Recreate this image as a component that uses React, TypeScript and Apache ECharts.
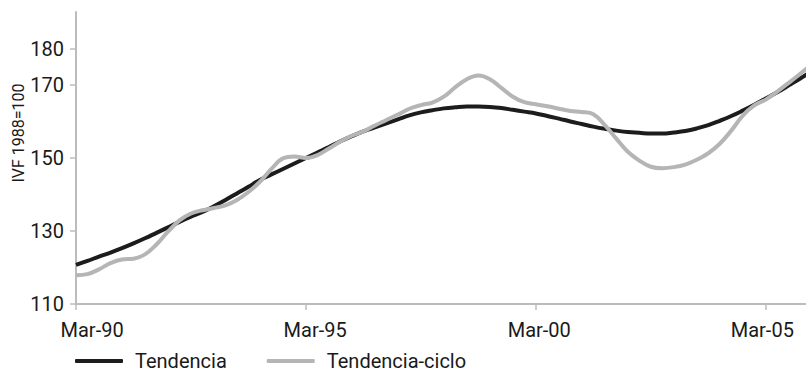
import React, { useEffect, useRef } from "react";
import * as echarts from "echarts";

// Quarterly index: 0 = Mar-90, 1 = Jun-90, ... (IVF, 1988 = 100)
const tendencia = [
  120.7, 121.8, 123.0, 124.1, 125.3, 126.6, 128.0, 129.5, 131.0, 132.5,
  133.9, 135.2, 136.8, 138.5, 140.3, 142.1, 144.0, 145.5, 147.0, 148.5,
  150.0, 151.5, 153.0, 154.6, 156.0, 157.3, 158.4, 159.5, 160.6, 161.7,
  162.5, 163.1, 163.6, 163.9, 164.1, 164.1, 164.0, 163.7, 163.2, 162.7,
  162.2, 161.5, 160.8, 160.0, 159.3, 158.6, 158.0, 157.5, 157.1, 156.9,
  156.7, 156.7, 157.0, 157.4, 158.1, 159.0, 160.2, 161.5, 163.0, 164.6,
  166.3, 168.0, 169.9, 171.8, 173.8,
];

const tendenciaCiclo = [
  117.9, 118.2, 119.5, 121.2, 122.2, 122.4, 123.6, 126.3, 129.8, 132.9,
  134.8, 135.7, 136.3, 137.0, 138.5, 140.7, 143.5, 147.0, 149.9, 150.4,
  150.0, 150.8, 152.6, 154.5, 156.1, 157.3, 158.9, 160.4, 161.9, 163.5,
  164.5, 165.2, 166.8, 169.4, 171.6, 172.6, 171.6, 169.2, 166.8, 165.3,
  164.7, 164.2, 163.5, 162.9, 162.6, 162.0, 159.0, 155.3, 151.7, 149.3,
  147.6, 147.2, 147.5, 148.2, 149.5, 151.3, 153.9, 157.5, 161.6, 164.4,
  166.0, 168.2, 170.6, 173.1, 175.7,
];

const seriesNames = ["Tendencia", "Tendencia-ciclo"];

// x-axis: tick quarters and their labels
const xTickQuarters = [0, 20, 40, 60];
const xLabelQuarters = [1.4, 20.8, 40.3, 59.7];
const xTickLabels = ["Mar-90", "Mar-95", "Mar-00", "Mar-05"];

// y-axis labelled values
const yTickValues = [110, 130, 150, 170, 180];

const FONT = "Roboto, 'Noto Sans', sans-serif";
const AXIS_GRAY = "#bcbcbc";
const TEXT = "#1a1a1a";

export default function App() {
  const ref = useRef<HTMLDivElement>(null);

  useEffect(() => {
    if (!ref.current) return;
    const chart = echarts.init(ref.current, null, { renderer: "svg" });

    const toPairs = (arr: number[]) => arr.map((v, i) => [i, v]);

    chart.setOption({
      animation: false,
      backgroundColor: "#ffffff",
      textStyle: { fontFamily: FONT, color: TEXT },
      grid: { left: 76, right: 0, top: 12, bottom: 69 },
      xAxis: {
        type: "value",
        min: 0,
        max: 63.5,
        axisLine: { show: true, lineStyle: { color: AXIS_GRAY, width: 2 } },
        axisTick: {
          show: true,
          length: 6,
          customValues: xTickQuarters,
          lineStyle: { color: AXIS_GRAY, width: 1.5 },
        },
        axisLabel: {
          customValues: xLabelQuarters,
          margin: 16,
          fontSize: 20,
          fontFamily: FONT,
          color: TEXT,
          formatter: (v: number) => {
            let best = 0;
            xLabelQuarters.forEach((q, i) => {
              if (Math.abs(q - v) < Math.abs(xLabelQuarters[best] - v)) best = i;
            });
            return xTickLabels[best];
          },
        },
        splitLine: { show: false },
      },
      yAxis: {
        type: "value",
        min: 110,
        max: 190,
        interval: 10,
        axisLine: { show: true, lineStyle: { color: AXIS_GRAY, width: 2 } },
        axisTick: {
          show: true,
          length: 6,
          customValues: yTickValues,
          lineStyle: { color: AXIS_GRAY, width: 1.5 },
        },
        axisLabel: {
          customValues: yTickValues,
          margin: 12,
          fontSize: 20,
          fontFamily: FONT,
          color: TEXT,
        },
        splitLine: { show: false },
      },
      legend: {
        left: 75,
        top: 351,
        padding: 0,
        itemWidth: 48,
        itemHeight: 4,
        itemGap: 40,
        icon: "roundRect",
        textStyle: { fontSize: 20, fontFamily: FONT, color: TEXT, padding: [0, 0, 0, 7] },
        data: seriesNames,
      },
      graphic: [
        {
          type: "text",
          x: 18,
          y: 133,
          rotation: Math.PI / 2,
          style: {
            text: "IVF 1988=100",
            fontSize: 16,
            fontFamily: FONT,
            fill: TEXT,
            align: "center",
            verticalAlign: "middle",
          },
        },
      ],
      series: [
        {
          name: seriesNames[0],
          type: "line",
          data: toPairs(tendencia),
          smooth: 0.4,
          showSymbol: false,
          color: "#1c1c1c",
          lineStyle: { width: 4, color: "#1c1c1c" },
        },
        {
          name: seriesNames[1],
          type: "line",
          data: toPairs(tendenciaCiclo),
          smooth: 0.4,
          showSymbol: false,
          color: "#b5b5b5",
          lineStyle: { width: 4, color: "#b5b5b5" },
        },
      ],
    });

    return () => chart.dispose();
  }, []);

  return (
    <div
      ref={ref}
      style={{ position: "absolute", left: 0, top: 0, width: 806, height: 373 }}
    />
  );
}
